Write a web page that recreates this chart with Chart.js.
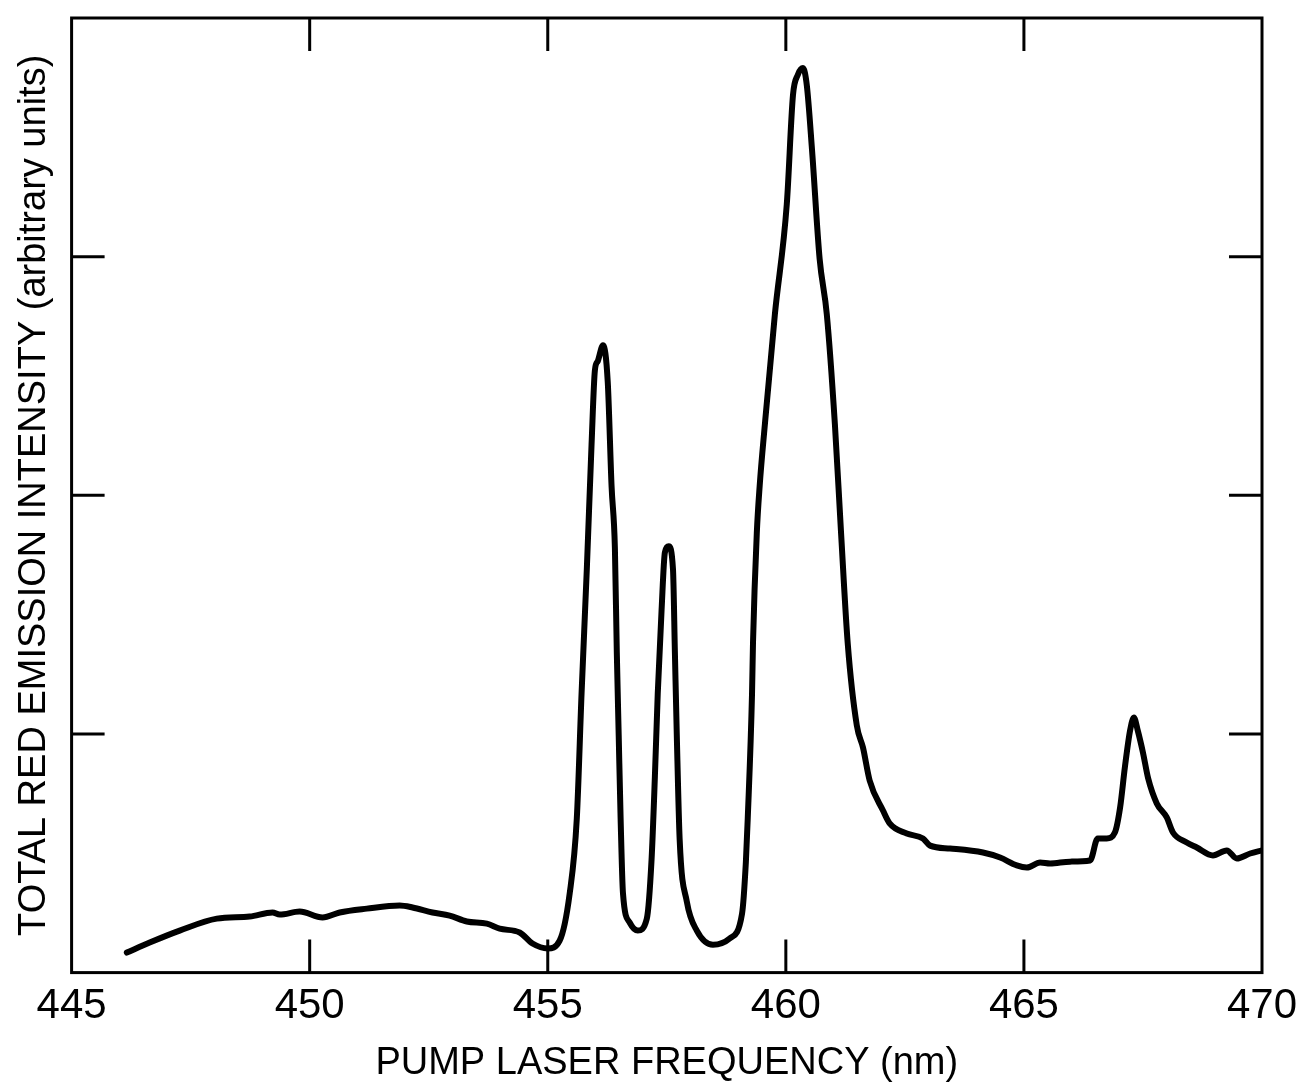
<!DOCTYPE html>
<html>
<head>
<meta charset="utf-8">
<title>Total red emission intensity vs pump laser frequency</title>
<script src="https://cdn.jsdelivr.net/npm/chart.js@4.4.1/dist/chart.umd.min.js"></script>
<style>
  html, body { margin: 0; padding: 0; background: #fff; }
  #wrap { width: 1301px; height: 1083px; position: relative; }
</style>
</head>
<body>
<div id="wrap"><canvas id="emissionChart"></canvas></div>
<script>
// Valores (longitud de onda en nm, intensidad en unidades arbitrarias)
const wavelength = [
  446.16, 446.64, 447.27, 448.05, 448.74, 449.22, 449.37, 449.79, 450.27, 450.63,
  451.20, 451.89, 452.16, 452.58, 452.94, 453.30, 453.72, 453.99, 454.41, 454.68,
  455.00, 455.25, 455.46, 455.61, 455.71, 455.82, 455.92, 455.99, 456.05, 456.16,
  456.26, 456.34, 456.41, 456.45, 456.49, 456.53, 456.58, 456.72, 456.89, 457.08,
  457.18, 457.25, 457.31, 457.39, 457.46, 457.54, 457.63, 457.67, 457.71, 457.77,
  457.92, 458.13, 458.47, 458.82, 459.08, 459.16, 459.20, 459.29, 459.31, 459.39,
  459.45, 459.56, 459.77, 460.02, 460.15, 460.25, 460.36, 460.44, 460.55, 460.71,
  460.86, 461.03, 461.16, 461.30, 461.49, 461.62, 461.76, 462.04, 462.18, 462.54,
  462.88, 463.03, 463.45, 464.14, 464.50, 464.85, 465.06, 465.34, 465.55, 465.97,
  466.39, 466.55, 466.74, 466.91, 467.02, 467.12, 467.23, 467.31, 467.39, 467.50,
  467.61, 467.79, 468.00, 468.13, 468.42, 468.63, 468.97, 469.26, 469.47, 469.75,
  470.00
];
const intensity = [
  0.084, 0.126, 0.176, 0.226, 0.235, 0.252, 0.243, 0.256, 0.231, 0.252,
  0.268, 0.281, 0.273, 0.252, 0.239, 0.214, 0.205, 0.184, 0.168, 0.122,
  0.101, 0.134, 0.331, 0.646, 1.170, 1.690, 2.214, 2.524, 2.562, 2.629,
  2.474, 2.038, 1.778, 1.342, 0.994, 0.646, 0.331, 0.210, 0.176, 0.226,
  0.474, 0.822, 1.170, 1.518, 1.761, 1.786, 1.690, 1.342, 0.994, 0.558,
  0.298, 0.176, 0.117, 0.143, 0.247, 0.461, 0.646, 1.170, 1.379, 1.841,
  2.038, 2.298, 2.759, 3.220, 3.677, 3.761, 3.790, 3.719, 3.447, 2.990,
  2.759, 2.298, 1.841, 1.379, 1.036, 0.943, 0.805, 0.679, 0.625, 0.583,
  0.562, 0.532, 0.520, 0.503, 0.482, 0.449, 0.440, 0.461, 0.457, 0.465,
  0.470, 0.562, 0.562, 0.587, 0.692, 0.860, 1.015, 1.069, 1.015, 0.922,
  0.813, 0.709, 0.650, 0.587, 0.545, 0.524, 0.491, 0.512, 0.478, 0.499,
  0.512
];

// Marcas interiores de los ejes (sin etiqueta en el eje Y)
const xTickMarks = [450, 455, 460, 465];
const yTickMarks = [1, 2, 3];

const xTitle = 'PUMP LASER FREQUENCY (nm)';
const yTitle = 'TOTAL RED EMISSION INTENSITY (arbitrary units)';

const FONT = "'Liberation Sans', Arial, sans-serif";

document.addEventListener('DOMContentLoaded', function () {
    const canvas = document.getElementById('emissionChart');
    if (!canvas || typeof Chart === 'undefined') return;

    const points = wavelength.map((w, i) => ({ x: w, y: intensity[i] }));

    // Plugin: marco completo y marcas hacia dentro en los cuatro lados
    const frameTicks = {
        id: 'frameTicks',
        afterDraw(chart) {
            const { left, right, top, bottom } = chart.chartArea;
            const xs = chart.scales.x, ys = chart.scales.y;
            const c = chart.ctx;
            const len = 33;
            c.save();
            c.strokeStyle = '#000';
            c.lineWidth = 3;
            c.strokeRect(left, top, right - left, bottom - top);
            c.beginPath();
            xTickMarks.forEach((v) => {
                const px = xs.getPixelForValue(v);
                c.moveTo(px, bottom); c.lineTo(px, bottom - len);
                c.moveTo(px, top); c.lineTo(px, top + len);
            });
            yTickMarks.forEach((v) => {
                const py = ys.getPixelForValue(v);
                c.moveTo(left, py); c.lineTo(left + len, py);
                c.moveTo(right, py); c.lineTo(right - len, py);
            });
            c.stroke();
            c.restore();
        }
    };

    new Chart(canvas.getContext('2d'), {
        type: 'line',
        data: {
            datasets: [{
                data: points,
                borderColor: '#000',
                borderWidth: 6,
                fill: false,
                pointRadius: 0,
                cubicInterpolationMode: 'monotone',
                borderCapStyle: 'round',
                borderJoinStyle: 'round'
            }]
        },
        options: {
            responsive: true,
            maintainAspectRatio: false,
            animation: false,
            layout: { padding: { left: 0, right: 39, top: 18, bottom: 0 } },
            plugins: {
                legend: { display: false },
                tooltip: { enabled: false }
            },
            scales: {
                x: {
                    type: 'linear',
                    min: 445,
                    max: 470,
                    // la etiqueta "470" puede salirse un poco del área, como en el original
                    afterFit: (scale) => { scale.paddingRight = 0; scale.paddingLeft = 0; },
                    grid: { display: false, drawTicks: false },
                    border: { display: false },
                    ticks: {
                        stepSize: 5,
                        color: '#000',
                        padding: 9,
                        font: { family: FONT, size: 42 },
                        maxRotation: 0,
                        callback: (v) => String(v)
                    },
                    title: {
                        display: true,
                        text: xTitle,
                        color: '#000',
                        font: { family: FONT, size: 38, lineHeight: 1.0 },
                        padding: { top: 4, bottom: 0 }
                    }
                },
                y: {
                    type: 'linear',
                    min: 0,
                    max: 4,
                    grid: { display: false, drawTicks: false },
                    border: { display: false },
                    ticks: { display: false, stepSize: 1 },
                    title: {
                        display: true,
                        text: yTitle,
                        color: '#000',
                        font: { family: FONT, size: 38 },
                        padding: { top: 12, bottom: 14 }
                    }
                }
            }
        },
        plugins: [frameTicks]
    });
});
</script>
</body>
</html>
